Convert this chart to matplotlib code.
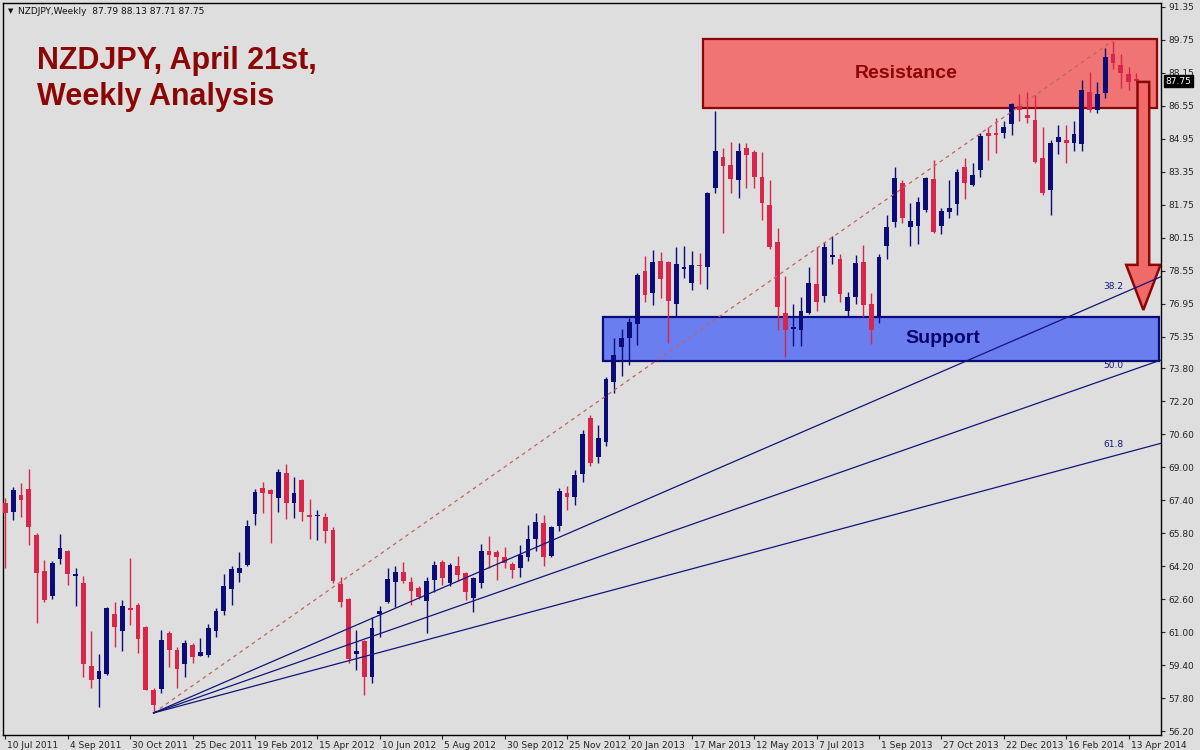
import numpy as np
import matplotlib
matplotlib.use("Agg")
import matplotlib.pyplot as plt
import matplotlib.transforms as mtransforms
from matplotlib.patches import Rectangle, Polygon

# weekly NZDJPY bars, first one is the week of 10 Jul 2011
opens = [67.27, 66.84, 67.66, 67.95, 65.72, 63.99, 62.76, 64.55, 64.94, 63.75,
         63.39, 59.36, 58.73, 58.97, 61.89, 61.06, 62.15, 62.32, 61.26, 58.20,
         58.25, 60.97, 60.16, 59.46, 60.38, 59.85, 59.89, 61.06, 62.03, 63.10,
         63.87, 64.26, 66.74, 68.00, 67.90, 67.52, 68.73, 67.27, 68.39, 66.64,
         66.62, 66.61, 65.96, 63.34, 62.61, 59.94, 60.57, 58.83, 61.89, 62.47,
         63.44, 63.92, 63.44, 63.15, 62.52, 63.53, 64.41, 63.39, 64.22, 63.87,
         62.66, 63.39, 64.94, 64.87, 64.67, 64.31, 64.12, 64.65, 65.53, 66.30,
         64.70, 66.16, 67.76, 67.57, 68.68, 71.40, 69.51, 70.23, 73.15, 74.85,
         75.28, 75.96, 78.53, 77.47, 79.02, 78.97, 76.93, 78.64, 77.95, 78.80,
         78.73, 82.56, 84.07, 83.68, 82.95, 84.51, 84.31, 83.10, 81.74, 79.94,
         76.50, 75.74, 75.67, 76.50, 77.90, 77.32, 79.23, 79.12, 76.59, 77.27,
         78.97, 76.93, 76.30, 79.75, 80.91, 82.81, 80.67, 80.72, 81.50, 83.00,
         80.72, 81.40, 81.79, 83.58, 82.71, 83.44, 85.23, 85.23, 85.23, 85.67,
         86.54, 86.11, 85.87, 84.02, 82.47, 84.80, 84.89, 84.75, 84.70, 87.22,
         86.35, 87.18, 89.07, 88.53, 88.10, 87.79]
highs = [67.52, 68.05, 68.24, 68.92, 65.82, 64.50, 64.46, 65.77, 64.99, 64.12,
         63.73, 61.06, 59.94, 62.23, 62.47, 62.57, 64.60, 62.42, 61.31, 58.30,
         61.11, 61.06, 60.28, 60.62, 60.47, 60.72, 61.40, 62.18, 63.83, 64.22,
         64.89, 66.45, 67.95, 68.29, 67.95, 68.92, 69.17, 68.54, 68.42, 67.47,
         66.93, 66.79, 66.11, 63.68, 62.64, 61.11, 60.62, 61.74, 62.28, 64.12,
         64.22, 64.41, 63.68, 63.25, 63.68, 64.46, 64.50, 64.36, 64.70, 63.92,
         63.68, 65.28, 65.67, 64.99, 65.13, 64.41, 65.23, 66.21, 66.79, 66.69,
         66.16, 68.00, 68.10, 68.87, 70.82, 71.54, 71.06, 73.39, 75.28, 75.72,
         76.25, 78.44, 79.26, 79.55, 79.46, 79.00, 79.70, 79.75, 79.51, 79.41,
         82.37, 86.30, 84.51, 84.80, 84.75, 84.75, 84.41, 84.31, 82.95, 80.62,
         78.29, 76.93, 77.27, 78.73, 79.70, 79.94, 80.23, 79.36, 77.52, 79.31,
         79.80, 77.47, 79.36, 81.25, 83.58, 82.95, 81.84, 82.13, 83.10, 83.92,
         81.59, 82.95, 83.49, 84.02, 83.78, 85.23, 85.53, 85.96, 85.82, 86.69,
         87.13, 87.22, 87.08, 85.53, 84.89, 85.62, 85.62, 85.82, 87.81, 88.20,
         87.71, 89.36, 89.71, 89.07, 88.44, 88.13]
lows = [64.12, 66.45, 66.59, 65.23, 61.45, 62.47, 62.61, 64.31, 63.29, 62.28,
        58.83, 58.30, 57.37, 58.92, 60.28, 60.09, 61.35, 59.99, 58.17, 57.08,
        58.05, 59.31, 58.30, 58.83, 59.51, 59.83, 59.80, 60.77, 61.84, 62.32,
        63.44, 64.22, 66.21, 66.79, 65.33, 66.84, 66.50, 66.55, 66.40, 65.53,
        65.48, 65.33, 63.39, 62.23, 59.51, 59.17, 57.95, 58.54, 60.77, 62.43,
        62.23, 63.39, 62.32, 62.61, 60.96, 62.95, 63.29, 63.25, 63.48, 62.57,
        61.98, 63.15, 64.12, 63.53, 64.12, 63.63, 63.68, 64.46, 64.94, 64.22,
        64.65, 65.91, 66.93, 67.18, 68.29, 69.07, 69.21, 70.04, 72.61, 73.44,
        73.97, 74.94, 77.03, 76.88, 77.22, 75.04, 76.30, 78.20, 77.61, 77.90,
        77.66, 82.32, 80.38, 82.32, 82.08, 82.56, 82.56, 81.01, 79.60, 75.67,
        74.36, 74.89, 74.89, 76.45, 76.59, 77.03, 78.88, 77.03, 76.30, 76.93,
        76.30, 74.99, 76.01, 79.12, 80.67, 80.86, 79.75, 79.85, 81.40, 80.38,
        80.33, 81.11, 81.25, 82.03, 82.66, 83.10, 83.92, 84.26, 84.99, 85.14,
        85.82, 85.72, 83.78, 82.22, 81.25, 84.21, 83.78, 84.36, 84.36, 86.25,
        86.20, 86.93, 88.34, 87.42, 87.32, 87.71]
closes = [66.79, 67.90, 67.42, 66.11, 63.87, 62.57, 64.36, 65.09, 63.82, 63.80,
          59.46, 58.68, 59.12, 62.18, 61.26, 62.28, 62.10, 60.67, 58.20, 57.47,
          60.62, 60.13, 59.22, 60.48, 59.80, 60.04, 61.21, 62.03, 63.24, 64.07,
          64.12, 66.16, 67.81, 67.76, 67.71, 68.78, 67.27, 67.76, 66.84, 66.60,
          66.66, 65.91, 63.48, 62.47, 59.70, 60.09, 58.83, 61.21, 62.03, 63.58,
          63.92, 63.48, 63.00, 62.71, 63.48, 64.26, 63.63, 64.26, 63.78, 62.95,
          63.63, 64.94, 64.75, 64.63, 64.38, 64.02, 64.75, 65.53, 66.35, 64.65,
          66.11, 67.86, 67.57, 68.63, 70.62, 69.21, 70.43, 73.29, 74.46, 75.28,
          76.06, 78.34, 77.37, 78.97, 78.15, 77.08, 78.88, 78.70, 78.83, 78.76,
          82.32, 84.36, 83.63, 83.00, 84.36, 84.17, 83.10, 81.84, 79.70, 76.79,
          75.67, 75.80, 76.59, 77.95, 77.03, 79.70, 79.28, 77.42, 77.27, 78.92,
          76.88, 75.67, 79.21, 80.67, 83.05, 81.11, 80.96, 81.88, 83.05, 80.43,
          81.45, 81.59, 83.34, 82.81, 83.20, 85.09, 85.09, 85.14, 85.53, 86.64,
          86.35, 85.96, 83.83, 82.32, 84.75, 85.04, 84.75, 85.19, 87.32, 86.35,
          87.13, 88.92, 88.63, 88.15, 87.71, 87.75]

date_labels = ["10 Jul 2011", "4 Sep 2011", "30 Oct 2011", "25 Dec 2011",
               "19 Feb 2012", "15 Apr 2012", "10 Jun 2012", "5 Aug 2012",
               "30 Sep 2012", "25 Nov 2012", "20 Jan 2013", "17 Mar 2013",
               "12 May 2013", "7 Jul 2013", "1 Sep 2013", "27 Oct 2013",
               "22 Dec 2013", "16 Feb 2014", "13 Apr 2014"]
DATE_STEP = 8  # weeks between labels

price_ticks = [91.35, 89.75, 88.15, 86.55, 84.95, 83.35, 81.75, 80.15, 78.55,
               76.95, 75.35, 73.80, 72.20, 70.60, 69.00, 67.40, 65.80, 64.20,
               62.60, 61.00, 59.40, 57.80, 56.20]

# fibonacci fan: swing low (bar 19) to swing high (bar 142)
LOW_BAR, LOW_PRICE = 19, 57.08
HIGH_BAR, HIGH_PRICE = 142, 89.71
fib_levels = [38.2, 50.0, 61.8]

# zones drawn on the chart (bar index / price)
RES_FROM, RES_TO, RES_LOW, RES_HIGH = 89.4, 147.7, 86.45, 89.78
SUP_FROM, SUP_TO, SUP_LOW, SUP_HIGH = 76.6, 147.9, 74.18, 76.32
ARROW_X, ARROW_TOP, ARROW_NECK, ARROW_TIP = 145.9, 87.71, 78.83, 76.64

RED = "#d8264a"
BLUE = "#0c0c78"
NAVY = "#14147a"
DARKRED = "#8c0606"
BG = "#dedede"

fig = plt.figure(figsize=(12, 7.5), dpi=100, facecolor=BG)
ax = fig.add_axes([3 / 1200, 15 / 750, 1158 / 1200, 732 / 750], facecolor=BG)

o = np.array(opens); h = np.array(highs); l = np.array(lows); c = np.array(closes)
x = np.arange(len(o))
up = c >= o
cols = np.where(up, BLUE, RED)

# zones (behind candles)
ax.add_patch(Rectangle((RES_FROM, RES_LOW), RES_TO - RES_FROM, RES_HIGH - RES_LOW,
                       facecolor="#f07474", edgecolor=DARKRED, lw=1.6, zorder=1))
ax.add_patch(Rectangle((SUP_FROM, SUP_LOW), SUP_TO - SUP_FROM, SUP_HIGH - SUP_LOW,
                       facecolor="#6a7ef0", edgecolor="#0a0a7a", lw=1.6, zorder=1))

# candles
ax.vlines(x, l, h, colors=cols, lw=1, zorder=3)
body_lo = np.minimum(o, c)
body_h = np.maximum(np.abs(c - o), 0.08)
ax.bar(x, body_h, bottom=body_lo, width=0.62, color=cols, linewidth=0, zorder=4)

# fib trend line + fan
ax.plot([LOW_BAR, HIGH_BAR], [LOW_PRICE, HIGH_PRICE], ls=(0, (3, 3)),
        color="#c06464", lw=0.9, zorder=5)
x_end = 150
for lev in fib_levels:
    p = HIGH_PRICE - lev / 100 * (HIGH_PRICE - LOW_PRICE)
    slope = (p - LOW_PRICE) / (HIGH_BAR - LOW_BAR)
    ax.plot([LOW_BAR, x_end], [LOW_PRICE, LOW_PRICE + slope * (x_end - LOW_BAR)],
            color=NAVY, lw=0.9, zorder=6)
    ax.annotate(f"{lev:.1f}", (HIGH_BAR, p), xytext=(0, 5), textcoords="offset points",
                ha="center", va="bottom", fontsize=6.5, color=NAVY, zorder=7)

# down arrow
shaft, head = 0.75, 2.2
arrow = Polygon([(ARROW_X - shaft, ARROW_TOP), (ARROW_X + shaft, ARROW_TOP),
                 (ARROW_X + shaft, ARROW_NECK), (ARROW_X + head, ARROW_NECK),
                 (ARROW_X, ARROW_TIP), (ARROW_X - head, ARROW_NECK),
                 (ARROW_X - shaft, ARROW_NECK)],
                closed=True, facecolor="#f06a6a", edgecolor=DARKRED, lw=1.8, zorder=5)
ax.add_patch(arrow)

ax.text((RES_FROM + RES_TO) / 2 - 3, (RES_LOW + RES_HIGH) / 2, "Resistance",
        ha="center", va="center", fontsize=14, fontweight="bold", color=DARKRED,
        family="Liberation Sans", zorder=8)
ax.text((SUP_FROM + SUP_TO) / 2 + 8, (SUP_LOW + SUP_HIGH) / 2, "Support",
        ha="center", va="center", fontsize=14, fontweight="bold", color="#06066a",
        family="Liberation Sans", zorder=8)

# axes
ax.set_xlim(-0.3, -0.3 + 1158 / 7.8)
ax.set_ylim(56.01, 91.54)
ax.yaxis.tick_right()
ax.set_yticks(price_ticks)
ax.set_yticklabels([f"{t:.2f}" for t in price_ticks])
ax.tick_params(axis="y", length=3, width=0.8, labelsize=6.5, colors="#222222", pad=2)
ax.set_xticks(np.arange(len(date_labels)) * DATE_STEP)
ax.set_xticklabels(date_labels)
ax.tick_params(axis="x", length=3, width=0.8, labelsize=6.5, colors="#222222", pad=1)
shift = mtransforms.ScaledTranslation(2 / 100, 0, fig.dpi_scale_trans)
for lbl in ax.get_xticklabels():
    lbl.set_ha("left")
    lbl.set_transform(lbl.get_transform() + shift)
for sp in ax.spines.values():
    sp.set_color("black")
    sp.set_linewidth(1)

# last price marker on the axis
trans = mtransforms.blended_transform_factory(ax.transAxes, ax.transData)
ax.text(1.004, closes[-1], f"{closes[-1]:.2f}", transform=trans, ha="left", va="center",
        fontsize=6.5, color="white", clip_on=False,
        bbox=dict(boxstyle="square,pad=0.15", fc="black", ec="black"))

# header and title
fig.text(8 / 1200, 1 - 11 / 750, "\u25bc", fontsize=5, va="center", color="#111111")
fig.text(18 / 1200, 1 - 11 / 750, "NZDJPY,Weekly  87.79 88.13 87.71 87.75",
         fontsize=6.5, va="center", color="#111111")
fig.text(37 / 1200, 1 - 46 / 750, "NZDJPY, April 21st,\nWeekly Analysis",
         fontsize=22, fontweight="bold", color=DARKRED, va="top", ha="left",
         linespacing=1.24, family="Liberation Sans")

fig.savefig("out.png", dpi=100, facecolor=BG)
